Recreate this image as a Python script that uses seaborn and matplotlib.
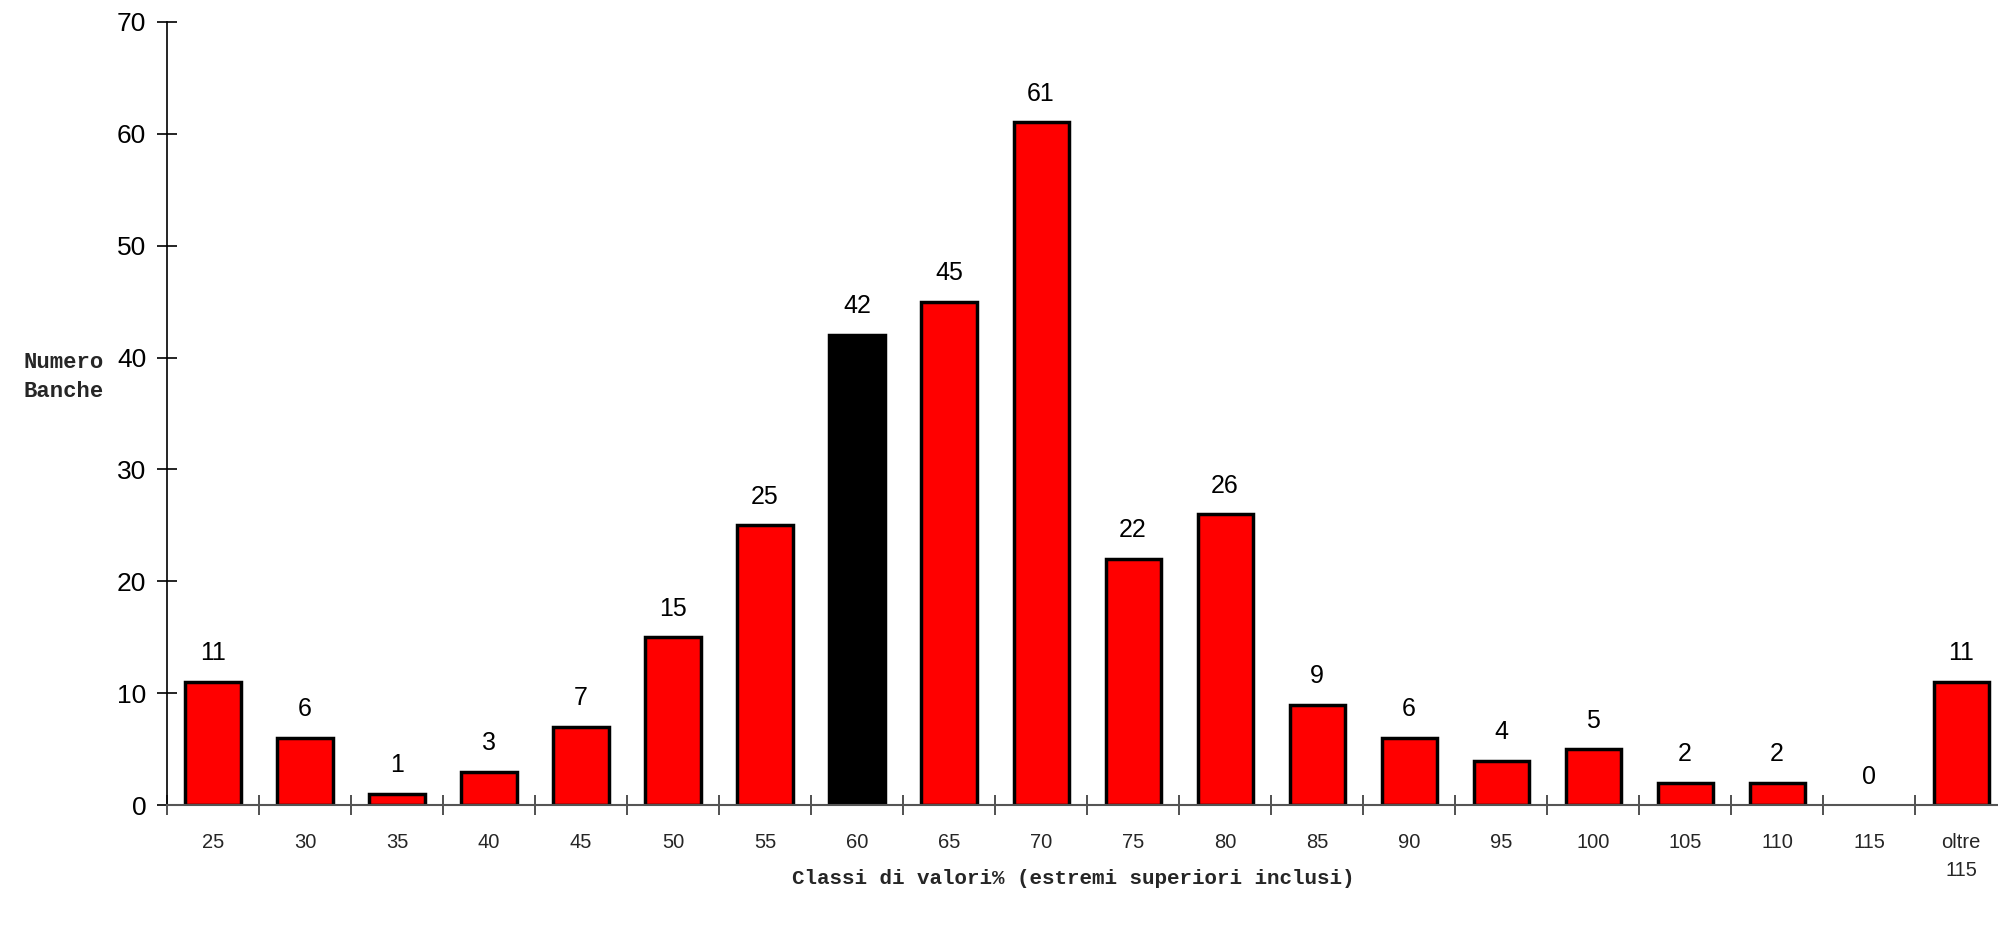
import matplotlib
matplotlib.use("Agg")
import matplotlib.pyplot as plt
import seaborn as sns
import pandas as pd
from matplotlib.ticker import FixedLocator, NullFormatter

categories = ["25", "30", "35", "40", "45", "50", "55", "60", "65", "70",
              "75", "80", "85", "90", "95", "100", "105", "110", "115", "oltre\n115"]
counts = [11, 6, 1, 3, 7, 15, 25, 42, 45, 61, 22, 26, 9, 6, 4, 5, 2, 2, 0, 11]
highlight = "60"

sns.set_theme(style="white")
plt.rcParams["font.family"] = ["Liberation Sans", "DejaVu Sans"]

df = pd.DataFrame({"classe": categories, "banche": counts})
colors = {c: ("#000000" if c == highlight else "#ff0000") for c in categories}

fig = plt.figure(figsize=(19.98, 9.27), dpi=100)
ax = fig.add_axes([0.0836, 0.1313, 0.921, 0.8453])

sns.barplot(data=df, x="classe", y="banche", hue="classe", palette=colors,
            order=categories, hue_order=categories, legend=False,
            width=0.6, edgecolor="black", linewidth=2.5, saturation=1, ax=ax)

# empty classes get no outline sitting on the axis
for patch in ax.patches:
    if patch.get_height() == 0:
        patch.set_linewidth(0)

ax.set_xlim(-0.5, len(categories) - 0.5)
ax.set_ylim(0, 70)
ax.set_yticks(range(0, 71, 10))

for i, v in enumerate(counts):
    ax.annotate(str(v), (i, v), xytext=(0, 12), textcoords="offset points",
                ha="center", va="bottom", fontsize=18, color="black")

# tick styling: ticks crossing the axes like the classic spreadsheet look
ax.tick_params(axis="y", which="major", direction="inout", length=14, width=1.2,
               labelsize=19, pad=8, left=True, colors="black")
ax.tick_params(axis="x", which="major", length=0, labelsize=14.5, pad=20)
ax.xaxis.set_minor_locator(FixedLocator([i - 0.5 for i in range(len(categories) + 1)]))
ax.xaxis.set_minor_formatter(NullFormatter())
ax.tick_params(axis="x", which="minor", direction="inout", length=14, width=1.2,
               bottom=True, color="#333333")
for lbl in ax.get_xticklabels():
    lbl.set_linespacing(1.6)
    lbl.set_verticalalignment("top")

for side in ("top", "right"):
    ax.spines[side].set_visible(False)
ax.spines["left"].set_color("black")
ax.spines["left"].set_linewidth(1.2)
ax.spines["bottom"].set_color("#555555")
ax.spines["bottom"].set_linewidth(1.5)

ax.set_xlabel("")
ax.set_ylabel("")

fig.text(0.032, 0.593, "Numero\nBanche", ha="center", va="center",
         fontsize=16, fontweight="bold", family=["Liberation Mono", "DejaVu Sans Mono"],
         linespacing=1.5)
fig.text(0.537, 0.052, "Classi di valori% (estremi superiori inclusi)",
         ha="center", va="center", fontsize=15, fontweight="bold",
         family=["Liberation Mono", "DejaVu Sans Mono"])

fig.savefig("out.png", dpi=100)
